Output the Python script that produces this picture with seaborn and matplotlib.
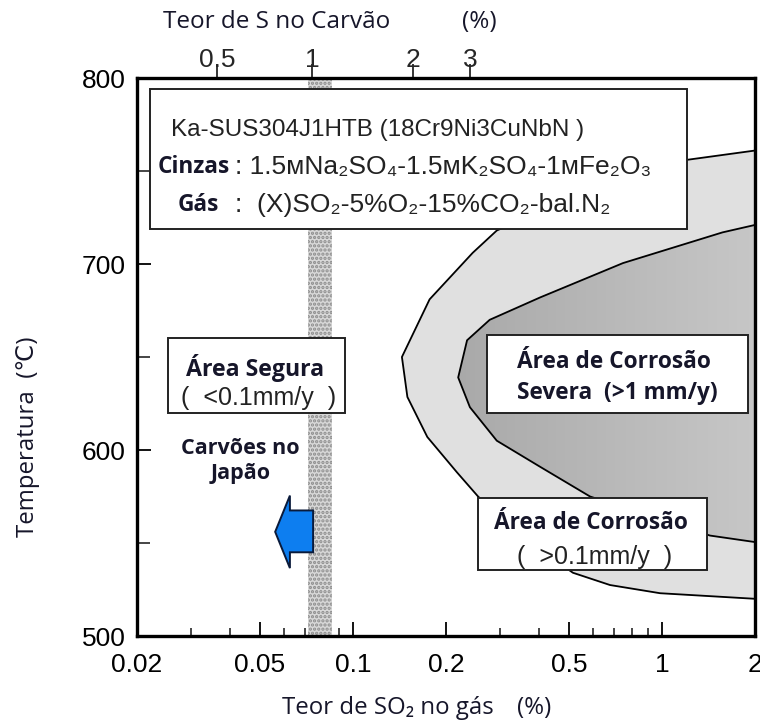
import numpy as np
import pandas as pd
import matplotlib
matplotlib.use("Agg")
import matplotlib.pyplot as plt
import seaborn as sns
from matplotlib.patches import Rectangle, Polygon
from matplotlib.ticker import FixedLocator, NullLocator, NullFormatter, LogLocator

# ---------------- data ----------------
outer_so2 = [2.0, 1.205, 0.55, 0.292, 0.244, 0.177, 0.144, 0.150, 0.174, 0.217, 0.254,
             0.36, 0.515, 0.679, 0.986, 2.0]
outer_temp = [761, 756, 738, 718, 706, 681, 650, 628.5, 607, 588, 575,
              552, 534, 527.4, 523, 520]
severe_so2 = [2.0, 1.57, 0.748, 0.403, 0.277, 0.234, 0.219, 0.239, 0.292, 0.403, 0.585, 1.43, 2.0]
severe_temp = [721, 717, 700.5, 682, 670, 659, 639, 623, 605, 591, 575, 554, 550.5]
japan_coal_so2 = [0.0715, 0.0855]
arrow_so2 = [0.0743, 0.0625, 0.0625, 0.056, 0.0625, 0.0625, 0.0743]
arrow_temp = [567.5, 567.5, 575.5, 556, 536.5, 545, 545]
top_tick_labels = ["0.5", "1", "2", "3"]
top_tick_so2 = [0.0363, 0.0736, 0.156, 0.239]
bottom_ticks = [0.02, 0.05, 0.1, 0.2, 0.5, 1, 2]
bottom_labels = ["0.02", "0.05", "0.1", "0.2", "0.5", "1", "2"]
temp_ticks = [500, 600, 700, 800]
temp_minor = [550, 650, 750]

# ---------------- style ----------------
sns.set_theme(style="ticks")
plt.rcParams["font.family"] = ["Liberation Sans", "DejaVu Sans"]
plt.rcParams["hatch.linewidth"] = 1.6

BOLD = ["Open Sans", "DejaVu Sans"]
TXT = "#16162a"
REG = "#222222"
BSZ = 16.3

fig = plt.figure(figsize=(7.6, 7.22), dpi=100)
ax = fig.add_axes([137 / 760, 1 - 636 / 722, 618 / 760, 558 / 722])
ax.set_xscale("log")
ax.set_xlim(0.02, 2)
ax.set_ylim(500, 800)

# light corrosion area
ax.fill_betweenx(outer_temp, outer_so2, 2, color="#e0e0e0", lw=0, zorder=1)

# severe corrosion area with gradient
poly = Polygon(list(zip(severe_so2, severe_temp)), closed=True, transform=ax.transData,
               facecolor="none", edgecolor="none")
ax.add_patch(poly)
xg = np.geomspace(0.15, 2.0, 120)
yg = np.array([500, 800])
C = np.log10(xg)[None, :-1]
mesh = ax.pcolormesh(xg, yg, C, cmap=matplotlib.colors.LinearSegmentedColormap.from_list(
    "g", ["#a4a4a4", "#c6c6c6"]), shading="flat", zorder=2)
mesh.set_clip_path(poly)

sns.lineplot(x=outer_so2, y=outer_temp, sort=False, estimator=None, color="black",
             lw=1.3, ax=ax, zorder=3)
sns.lineplot(x=severe_so2, y=severe_temp, sort=False, estimator=None, color="black",
             lw=1.3, ax=ax, zorder=3)

# japanese coal band
ax.axvspan(japan_coal_so2[0], japan_coal_so2[1], facecolor="#d8d8d8", edgecolor="#8c8c8c",
           hatch="....", lw=0, zorder=4)

# arrow
ax.add_patch(Polygon(list(zip(arrow_so2, arrow_temp)), closed=True, transform=ax.transData,
                     facecolor="#0d7ef0", edgecolor="#0a1a3a", lw=1.4, zorder=5))

# boxes (axes coords)
def box(x0, y0, x1, y1):
    ax.add_patch(Rectangle((x0, y0), x1 - x0, y1 - y0, transform=ax.transAxes,
                           facecolor="white", edgecolor="#222222", lw=1.4, zorder=6))

box(0.021, 0.729, 0.890, 0.980)
box(0.050, 0.400, 0.337, 0.534)
box(0.566, 0.400, 0.989, 0.539)
box(0.552, 0.118, 0.922, 0.247)

T = ax.transAxes
ax.text(0.389, 0.907, "Ka-SUS304J1HTB (18Cr9Ni3CuNbN )", transform=T, ha="center",
        va="center", fontsize=17.5, color=REG, zorder=7)
ax.text(0.034, 0.841, "Cinzas", transform=T, ha="left", va="center", fontsize=BSZ,
        family=BOLD, weight="bold", color=TXT, zorder=7)
ax.text(0.159, 0.841, ": 1.5ᴍNa₂SO₄-1.5ᴍK₂SO₄-1ᴍFe₂O₃",
        transform=T, ha="left", va="center", fontsize=19, color=REG, zorder=7)
ax.text(0.065, 0.772, "Gás", transform=T, ha="left", va="center", fontsize=BSZ,
        family=BOLD, weight="bold", color=TXT, zorder=7)
ax.text(0.159, 0.772, ":  (X)SO₂-5%O₂-15%CO₂-bal.N₂",
        transform=T, ha="left", va="center", fontsize=19, color=REG, zorder=7)

ax.text(0.191, 0.480, "Área Segura", transform=T, ha="center", va="center", fontsize=16.7,
        family=BOLD, weight="bold", color=TXT, zorder=7)
ax.text(0.196, 0.427, "(  <0.1mm/y  )", transform=T, ha="center", va="center", fontsize=18,
        color=REG, zorder=7)
ax.text(0.167, 0.314, "Carvões no\nJapão", transform=T, ha="center", va="center",
        fontsize=15.5, family=BOLD, weight="bold", color=TXT, linespacing=1.22, zorder=7)

ax.text(0.615, 0.491, "Área de Corrosão", transform=T, ha="left", va="center", fontsize=BSZ,
        family=BOLD, weight="bold", color=TXT, zorder=7)
ax.text(0.615, 0.435, "Severa  (>1 mm/y)", transform=T, ha="left", va="center", fontsize=BSZ,
        family=BOLD, weight="bold", color=TXT, zorder=7)
ax.text(0.735, 0.2025, "Área de Corrosão", transform=T, ha="center", va="center",
        fontsize=BSZ, family=BOLD, weight="bold", color=TXT, zorder=7)
ax.text(0.741, 0.142, "(  >0.1mm/y  )", transform=T, ha="center", va="center", fontsize=18,
        color=REG, zorder=7)

# ticks & spines
ax.set_xticks(bottom_ticks, labels=bottom_labels)
ax.xaxis.set_minor_locator(LogLocator(base=10, subs=np.arange(2, 10)))
ax.xaxis.set_minor_formatter(NullFormatter())
ax.set_yticks(temp_ticks)
ax.yaxis.set_minor_locator(FixedLocator(temp_minor))
ax.tick_params(which="major", direction="in", length=10, width=1.3, labelsize=19,
               colors="black")
ax.tick_params(axis="x", which="major", pad=12)
ax.tick_params(axis="y", which="major", pad=8)
ax.tick_params(which="minor", direction="in", length=6, width=1.2)
ax.tick_params(axis="y", which="minor", length=9)
for s in ax.spines.values():
    s.set_linewidth(2.4)
    s.set_color("black")
    s.set_zorder(8)

sec = ax.secondary_xaxis("top")
sec.set_xticks(top_tick_so2, labels=top_tick_labels)
sec.xaxis.set_minor_locator(NullLocator())
sec.tick_params(direction="out", length=10, width=1.3, labelsize=19, pad=-6)
sec.spines["top"].set_visible(False)

LAB = ["Open Sans", "DejaVu Sans"]
fig.text(282 / 760, 1 - 708 / 722, "Teor de SO₂ no gás", ha="left", va="center",
         fontsize=17.3, family=LAB, color=TXT)
fig.text(517 / 760, 1 - 708 / 722, "(%)", ha="left", va="center",
         fontsize=17.3, family=LAB, color=TXT)
fig.text(0.037, 0.395, "Temperatura  (℃)", ha="center", va="center", rotation=90,
         fontsize=17.3, family=LAB, color=TXT)
fig.text(163 / 760, 0.9695, "Teor de S no Carvão", ha="left", va="center", fontsize=17.5,
         family=LAB, color=TXT)
fig.text(462 / 760, 0.9695, "(%)", ha="left", va="center", fontsize=17.5, family=LAB,
         color=TXT)

fig.savefig("out.png", dpi=100)
